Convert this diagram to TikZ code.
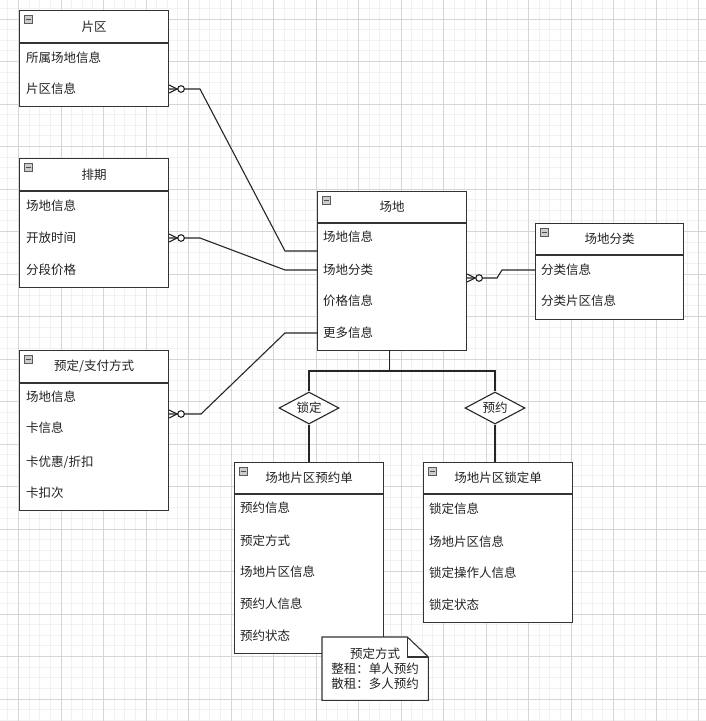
\documentclass[tikz,border=0pt]{standalone}
\usepackage{fontspec}
\setmainfont{Noto Sans CJK SC}
\usetikzlibrary{shapes.geometric}
\definecolor{boxc}{HTML}{333333}
\definecolor{txtc}{HTML}{222222}
\definecolor{minorc}{HTML}{F1F1F1}
\definecolor{majorc}{HTML}{D6D6D6}
\tikzset{
  hdr/.style={draw=boxc, line width=1.1pt, fill=white, inner sep=0pt, anchor=north west, text=txtc},
  bdy/.style={draw=boxc, line width=1.1pt, fill=white, inner sep=0pt, anchor=north west},
  rowtxt/.style={anchor=west, inner sep=0pt, text=txtc},
  conn/.style={line width=1.1pt, draw=black!85},
  dia/.style={diamond, draw=black!85, line width=1.1pt, fill=white, aspect=1.875, inner sep=0pt, minimum width=60pt, minimum height=32pt, text=txtc},
  icon/.style={draw=gray!70!black, fill=gray!40, line width=0.6pt, minimum width=8.5pt, minimum height=8pt, inner sep=0pt,
    path picture={\draw[black!70, line width=1pt] ([xshift=-2.5pt]path picture bounding box.center) -- ([xshift=2.5pt]path picture bounding box.center);}},
  minorg/.style={draw=minorc, line width=0.8pt},
  majorg/.style={draw=majorc, line width=0.8pt},
  zeromany/.pic={
    \draw[conn] (0,-4) -- (8,0) -- (0,4);
    \draw[conn, fill=white] (12,0) circle (3.3pt);
  }
}
\newcommand\erbox[7]{%
  \node[hdr, minimum width=#4pt, minimum height=#5pt] (#1-h) at (#2,#3) {#7};
  \node[bdy, minimum width=#4pt, minimum height=#6pt] (#1-b) at (#1-h.south west) {};
  \node[icon] (#1-i) at ([xshift=9.5pt,yshift=-9pt]#1-h.north west) {};
}
\begin{document}
\begin{tikzpicture}[x=1pt,y=-1pt,font=\fontsize{12.5}{15}\selectfont]
\useasboundingbox (0,0) rectangle (706,721);
\fill[white] (0,0) rectangle (706,721);
% grid
\foreach \i in {0,...,70} { \draw[minorg] ({-24+\i*10.625},0) -- ++(0,721); }
\foreach \i in {0,...,72} { \draw[minorg] (0,{-23.5+\i*10.625}) -- ++(706,0); }
\foreach \i in {0,...,16} {
  \draw[majorg] ({18.5+\i*42.5},0) -- ++(0,721);
  \draw[majorg] (0,{19+\i*42.5}) -- ++(706,0);
}

% boxes
\erbox{pq}{19}{10}{149}{32}{63}{片区}
\node[rowtxt] (pq-1) at (26,58) {所属场地信息};
\node[rowtxt] (pq-2) at (26,89) {片区信息};

\erbox{pp}{19}{158}{149}{32}{96}{排期}
\node[rowtxt] (pp-1) at (26,206) {场地信息};
\node[rowtxt] (pp-2) at (26,238) {开放时间};
\node[rowtxt] (pp-3) at (26,270) {分段价格};

\erbox{cd}{317}{191}{149}{31}{127}{场地}
\node[rowtxt] (cd-1) at (323,237) {场地信息};
\node[rowtxt] (cd-2) at (323,270) {场地分类};
\node[rowtxt] (cd-3) at (323,301) {价格信息};
\node[rowtxt] (cd-4) at (323,333) {更多信息};

\erbox{fl}{535}{223}{148}{31}{64}{场地分类}
\node[rowtxt] (fl-1) at (541,270) {分类信息};
\node[rowtxt] (fl-2) at (541,301) {分类片区信息};

\erbox{zf}{19}{350}{149}{32}{127}{预定/支付方式}
\node[rowtxt] (zf-1) at (26,397) {场地信息};
\node[rowtxt] (zf-2) at (26,428) {卡信息};
\node[rowtxt] (zf-3) at (26,462) {卡优惠/折扣};
\node[rowtxt] (zf-4) at (26,493) {卡扣次};

\erbox{yy}{234}{462}{149}{31}{159}{场地片区预约单}
\node[rowtxt] (yy-1) at (240,508) {预约信息};
\node[rowtxt] (yy-2) at (240,541) {预定方式};
\node[rowtxt] (yy-3) at (240,572) {场地片区信息};
\node[rowtxt] (yy-4) at (240,604) {预约人信息};
\node[rowtxt] (yy-5) at (240,636) {预约状态};

\erbox{sd}{423}{462}{149}{31}{128}{场地片区锁定单}
\node[rowtxt] (sd-1) at (429,509) {锁定信息};
\node[rowtxt] (sd-2) at (429,542) {场地片区信息};
\node[rowtxt] (sd-3) at (429,573) {锁定操作人信息};
\node[rowtxt] (sd-4) at (429,605) {锁定状态};

% diamonds
\node[dia] (d1) at (309,408) {锁定};
\node[dia] (d2) at (495,408) {预约};

% bend coordinates
\coordinate (b1a) at (200,89);  \coordinate (b1b) at (285,251); \coordinate (e1) at (0,251);
\coordinate (b2a) at (200,238); \coordinate (b2b) at (285,270);
\coordinate (b3a) at (201,414); \coordinate (b3b) at (285,333); \coordinate (s3) at (0,414);
\coordinate (s4) at (0,278); \coordinate (b4a) at (497,278); \coordinate (b4b) at (502,270);
\coordinate (bus) at (0,371);

% connectors
\draw[conn] (pq-b.east |- pq-2) -- (b1a) -- (b1b) -- (cd-b.west |- e1);
\pic at (pq-b.east |- pq-2) {zeromany};
\draw[conn] (pp-b.east |- pp-2) -- (b2a) -- (b2b) -- (cd-b.west |- cd-2);
\pic at (pp-b.east |- pp-2) {zeromany};
\draw[conn] (zf-b.east |- s3) -- (b3a) -- (b3b) -- (cd-b.west |- cd-4);
\pic at (zf-b.east |- s3) {zeromany};
\draw[conn] (cd-b.east |- s4) -- (b4a) -- (b4b) -- (fl-b.west |- fl-1);
\pic at (cd-b.east |- s4) {zeromany};

\draw[conn] ([xshift=-2.5pt]cd-b.south) -- ([xshift=-2.5pt]cd-b.south |- bus);
\draw[conn] (d1.north) -- (d1.north |- bus) -- (d2.north |- bus) -- (d2.north);
\draw[conn] (d1.south) -- (d1.south |- yy-h.north);
\draw[conn] (d2.south) -- (d2.south |- sd-h.north);

% note
\node[minimum width=106pt, minimum height=63pt, inner sep=0pt, anchor=north west] (nt) at (322,637) {};
\draw[draw=boxc, line width=1.1pt, fill=white] (nt.north west) -- ([xshift=-21pt]nt.north east) -- ([yshift=-20pt]nt.north east) -- (nt.south east) -- (nt.south west) -- cycle;
\draw[draw=boxc, line width=1.1pt] ([xshift=-21pt]nt.north east) -- ([xshift=-21pt,yshift=-20pt]nt.north east) -- ([yshift=-20pt]nt.north east);
\node[align=center, inner sep=0pt, text=txtc] (ntt) at (nt.center) {预定方式\\整租：单人预约\\散租：多人预约};
\end{tikzpicture}
\end{document}
